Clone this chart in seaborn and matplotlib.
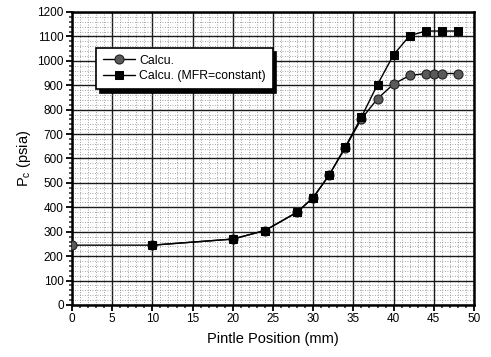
import matplotlib
matplotlib.use("Agg")
import matplotlib.pyplot as plt
from matplotlib.ticker import MultipleLocator
import pandas as pd
import seaborn as sns

# Chamber pressure vs. pintle position
calc_x = [0, 10, 20, 24, 28, 30, 32, 34, 36, 38, 40, 42, 44, 45, 46, 48]
calc_y = [245, 245, 270, 305, 380, 440, 533, 645, 762, 845, 905, 940, 948, 948, 948, 948]

mfr_x = [10, 20, 24, 28, 30, 32, 34, 36, 38, 40, 42, 44, 46, 48]
mfr_y = [245, 270, 305, 380, 440, 533, 648, 770, 903, 1025, 1103, 1122, 1122, 1122]

series_names = ["Calcu.", "Calcu. (MFR=constant)"]

calc_df = pd.DataFrame({"pos": calc_x, "pc": calc_y})
mfr_df = pd.DataFrame({"pos": mfr_x, "pc": mfr_y})

sns.set_style("ticks")
plt.rcParams["font.family"] = ["Liberation Sans", "DejaVu Sans"]
plt.rcParams["mathtext.fontset"] = "custom"
plt.rcParams["mathtext.rm"] = "Liberation Sans"
plt.rcParams["mathtext.it"] = "Liberation Sans"
plt.rcParams["text.color"] = "black"
plt.rcParams["axes.labelcolor"] = "black"

fig = plt.figure(figsize=(4.91, 3.57), dpi=100)
ax = fig.add_axes([0.1466, 0.1457, 0.8188, 0.8207])

sns.lineplot(data=calc_df, x="pos", y="pc", ax=ax, color="black", lw=1.0,
             marker="o", markersize=6.5, markerfacecolor="#5a5a5a",
             markeredgecolor="#222222", markeredgewidth=0.8,
             label=series_names[0], zorder=3)
sns.lineplot(data=mfr_df, x="pos", y="pc", ax=ax, color="black", lw=1.0,
             marker="s", markersize=6.2, markerfacecolor="black",
             markeredgecolor="black", label=series_names[1], zorder=4)

ax.set_xlim(0, 50)
ax.set_ylim(0, 1200)
ax.xaxis.set_major_locator(MultipleLocator(5))
ax.xaxis.set_minor_locator(MultipleLocator(1))
ax.yaxis.set_major_locator(MultipleLocator(100))
ax.yaxis.set_minor_locator(MultipleLocator(20))

ax.grid(which="major", color="#1a1a1a", lw=1.0, ls="-")
ax.grid(which="minor", color="#8a8a8a", lw=0.6, ls=(0, (1, 2)))
ax.set_axisbelow(True)

for s in ax.spines.values():
    s.set_linewidth(1.8)
    s.set_color("black")

ax.tick_params(which="major", direction="out", length=4, width=1.3,
               labelsize=8.5, colors="black", pad=2)
ax.tick_params(which="minor", direction="out", length=2.5, width=1.1)

ax.set_xlabel("Pintle Position (mm)", fontsize=10.5, labelpad=5)
ax.set_ylabel("P$_{\\mathrm{c}}$ (psia)", fontsize=10.5, labelpad=3)

leg = ax.legend(loc="upper left", bbox_to_anchor=(0.06, 0.877),
                borderaxespad=0, fontsize=8.8, frameon=True, fancybox=False,
                shadow={"color": "black", "alpha": 1.0, "ox": 2.5, "oy": -3},
                edgecolor="black", framealpha=1, handlelength=2.6,
                borderpad=0.55, labelspacing=0.3, handletextpad=0.4)
leg.get_frame().set_linewidth(1.2)
for t in leg.get_texts():
    t.set_color("black")

fig.savefig("out.png", dpi=100)
